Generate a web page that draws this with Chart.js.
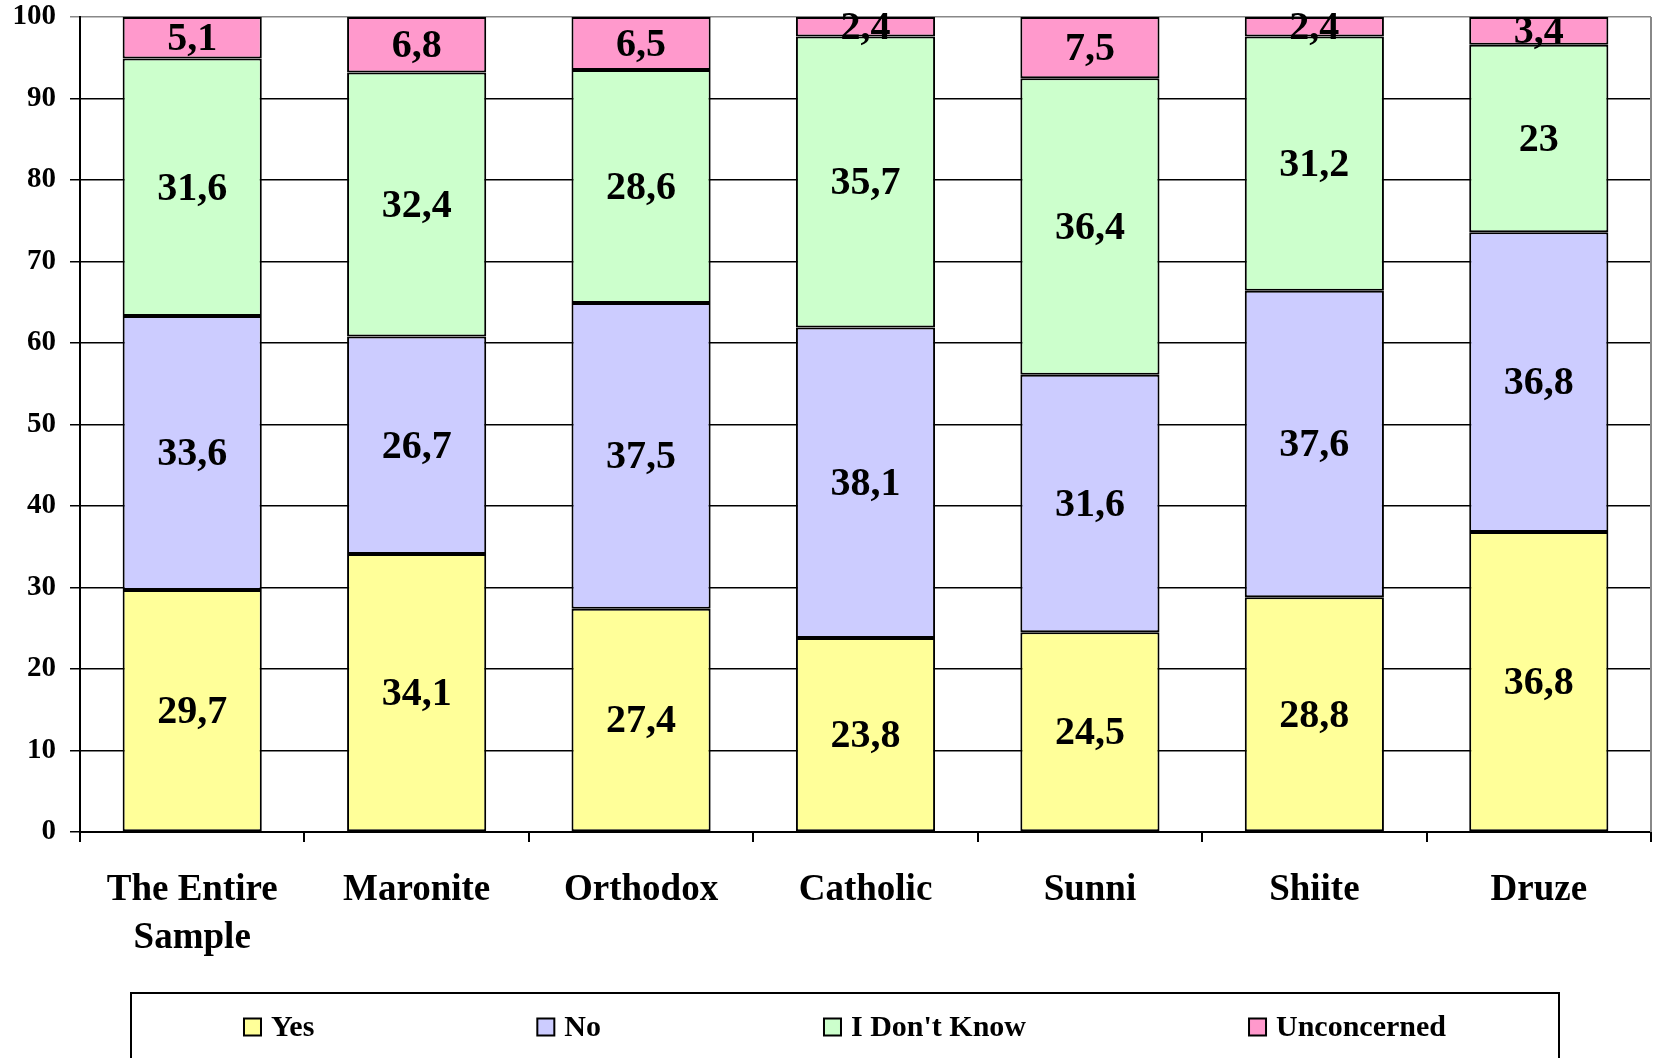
<!DOCTYPE html>
<html>
<head>
<meta charset="utf-8">
<script src="https://cdn.jsdelivr.net/npm/chart.js@4/dist/chart.umd.min.js"></script>
<style>
    html, body { margin: 0; padding: 0; background: #fff; }
    #wrap { width: 1656px; height: 1058px; }
</style>
</head>
<body>
<div id="wrap"><canvas id="chart"></canvas></div>
<script>
// === Data ===
const categories = [["The Entire", "Sample"], "Maronite", "Orthodox", "Catholic", "Sunni", "Shiite", "Druze"];
const seriesNames = ["Yes", "No", "I Don't Know", "Unconcerned"];
const yesValues = [29.7, 34.1, 27.4, 23.8, 24.5, 28.8, 36.8];
const noValues = [33.6, 26.7, 37.5, 38.1, 31.6, 37.6, 36.8];
const dontKnowValues = [31.6, 32.4, 28.6, 35.7, 36.4, 31.2, 23];
const unconcernedValues = [5.1, 6.8, 6.5, 2.4, 7.5, 2.4, 3.4];
const yTickValues = [0, 10, 20, 30, 40, 50, 60, 70, 80, 90, 100];

const colors = ["#FFFF99", "#CCCCFF", "#CCFFCC", "#FF99CC"];
const FONT = "'Liberation Serif', 'Times New Roman', serif";

// === Popisky hodnot uprostřed segmentů ===
const valueLabels = {
    id: "valueLabels",
    afterDatasetsDraw(chart) {
        const ctx = chart.ctx;
        ctx.save();
        ctx.font = "bold 40px " + FONT;
        ctx.fillStyle = "#000";
        ctx.textAlign = "center";
        ctx.textBaseline = "middle";
        chart.data.datasets.forEach((ds, i) => {
            chart.getDatasetMeta(i).data.forEach((bar, j) => {
                const p = bar.getProps(["x", "y", "base"], true);
                const txt = String(ds.data[j]).replace(".", ",");
                ctx.fillText(txt, p.x, (p.y + p.base) / 2 + 2);
            });
        });
        ctx.restore();
    }
};

// === Šedý rámeček vpravo ===
const plotBorder = {
    id: "plotBorder",
    beforeDatasetsDraw(chart) {
        const a = chart.chartArea;
        const ctx = chart.ctx;
        ctx.save();
        ctx.strokeStyle = "#888";
        ctx.lineWidth = 2;
        ctx.beginPath();
        ctx.moveTo(a.right, a.top);
        ctx.lineTo(a.right, a.bottom);
        ctx.stroke();
        ctx.restore();
    }
};

// === Vlastní legenda v rámečku ===
const boxLegend = {
    id: "boxLegend",
    afterDraw(chart) {
        const ctx = chart.ctx;
        const frameLeft = 131, frameRight = 1559, frameTop = 993;
        const cy = 1027, box = 17, gapText = 10, gapItem = 223;
        ctx.save();
        ctx.strokeStyle = "#000";
        ctx.lineWidth = 2;
        ctx.strokeRect(frameLeft, frameTop, frameRight - frameLeft, 100);
        ctx.font = "bold 30px " + FONT;
        const widths = chart.data.datasets.map(ds => box + gapText + ctx.measureText(ds.label).width);
        const total = widths.reduce((a, b) => a + b, 0) + gapItem * (widths.length - 1);
        let x = (frameLeft + frameRight) / 2 - total / 2;
        chart.data.datasets.forEach((ds, i) => {
            ctx.fillStyle = ds.backgroundColor;
            ctx.fillRect(x, cy - box / 2, box, box);
            ctx.lineWidth = 2;
            ctx.strokeRect(x, cy - box / 2, box, box);
            ctx.fillStyle = "#000";
            ctx.textAlign = "left";
            ctx.textBaseline = "middle";
            ctx.fillText(ds.label, x + box + gapText, cy + 1);
            x += widths[i] + gapItem;
        });
        ctx.restore();
    }
};

const allValues = [yesValues, noValues, dontKnowValues, unconcernedValues];

new Chart(document.getElementById("chart"), {
    type: "bar",
    data: {
        labels: categories,
        datasets: allValues.map((vals, i) => ({
            label: seriesNames[i],
            data: vals,
            backgroundColor: colors[i],
            borderColor: "#000",
            borderWidth: 2,
            borderSkipped: false,
            barPercentage: 0.62,
            categoryPercentage: 1
        }))
    },
    options: {
        responsive: true,
        maintainAspectRatio: false,
        animation: false,
        layout: { padding: { top: 17, right: 5, bottom: 86, left: 0 } },
        plugins: {
            legend: { display: false },
            tooltip: { enabled: false }
        },
        scales: {
            x: {
                stacked: true,
                offset: true,
                grid: { offset: true, drawOnChartArea: false, tickLength: 10, color: "#000", lineWidth: 2 },
                border: { color: "#000", width: 2 },
                ticks: {
                    color: "#000",
                    padding: 24,
                    maxRotation: 0,
                    autoSkip: false,
                    font: { family: FONT, size: 37, weight: "bold", lineHeight: 1.3 }
                },
                afterFit(scale) {
                    scale.height = 140;
                    scale.paddingLeft = 0;
                    scale.paddingRight = 0;
                }
            },
            y: {
                stacked: true,
                min: 0,
                max: 100,
                afterBuildTicks(scale) { scale.ticks = yTickValues.map(v => ({ value: v })); },
                grid: {
                    tickLength: 10,
                    lineWidth: 1.5,
                    color: ctx => (ctx.tick && ctx.tick.value === 100 ? "#888" : "#000")
                },
                border: { color: "#000", width: 2 },
                ticks: {
                    color: "#000",
                    padding: 14,
                    font: { family: FONT, size: 29, weight: "bold" }
                },
                afterFit(scale) {
                    scale.width = 80;
                    scale.paddingTop = 0;
                    scale.paddingBottom = 0;
                }
            }
        }
    },
    plugins: [valueLabels, plotBorder, boxLegend]
});
</script>
</body>
</html>
